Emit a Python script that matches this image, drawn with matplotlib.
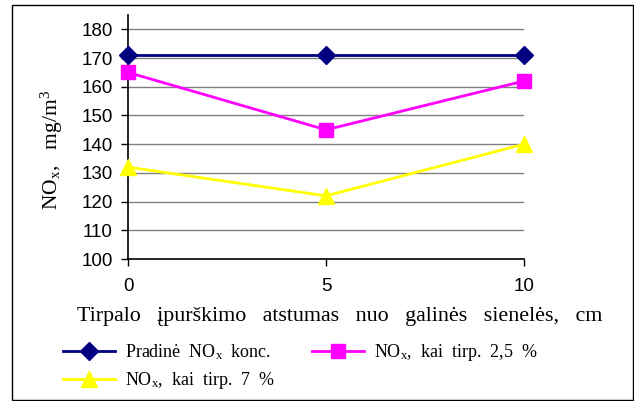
import matplotlib
matplotlib.use("Agg")
import matplotlib.pyplot as plt
from matplotlib.patches import Rectangle

# data
distances = [0, 5, 10]
pradine = [171, 171, 171]
tirp_25 = [165, 145, 162]
tirp_7 = [132, 122, 140]
y_ticks = [100, 110, 120, 130, 140, 150, 160, 170, 180]

plt.rcParams['mathtext.default'] = 'regular'

fig = plt.figure(figsize=(6.34, 4.01), dpi=100)
ax = fig.add_axes([128 / 634, 142 / 401, 396 / 634, 244 / 401])

# outer border
fig.patches.append(Rectangle((12 / 634, 1 / 401), 621 / 634, 395 / 401,
                             transform=fig.transFigure, fill=False,
                             edgecolor='black', linewidth=1.0))

for y in y_ticks[1:]:
    ax.axhline(y, color='#808080', linewidth=1.0, zorder=1)

l1, = ax.plot(distances, pradine, color='#000080', linewidth=2, marker='D',
              markersize=9, label='Pradinė  NO$_x$  konc.', zorder=3, clip_on=False)
l2, = ax.plot(distances, tirp_25, color='#FF00FF', linewidth=2, marker='s',
              markersize=10, label='NO$_x$,  kai  tirp.  2,5  %', zorder=3, clip_on=False)
l3, = ax.plot(distances, tirp_7, color='#FFFF00', linewidth=2, marker='^',
              markersize=12, label='NO$_x$,  kai  tirp.  7  %', zorder=3, clip_on=False)

ax.set_xlim(0, 10)
ax.set_ylim(100, 185)
ax.set_xticks(distances)
ax.set_yticks(y_ticks)
ax.tick_params(axis='both', labelsize=13.5, direction='out', length=5, width=1)
ax.tick_params(axis='x', pad=9)
ax.tick_params(axis='y', pad=6)
for lbl in ax.get_xticklabels() + ax.get_yticklabels():
    lbl.set_fontfamily('Liberation Sans')

ax.spines['top'].set_visible(False)
ax.spines['right'].set_visible(False)
ax.spines['left'].set_linewidth(1.2)
ax.spines['bottom'].set_linewidth(1.2)

ax.set_xlabel('Tirpalo   įpurškimo   atstumas   nuo   galinės   sienelės,   cm',
              fontfamily='Liberation Serif', fontsize=15.8)
ax.xaxis.set_label_coords(0.535, -0.195)
ax.set_ylabel('NO$_x$,   mg/m$^3$', fontfamily='Liberation Serif', fontsize=15.5)
ax.yaxis.set_label_coords(-0.16, 0.447)

fig.legend(handles=[l1, l3, l2], ncol=2, frameon=False,
           prop={'family': 'Liberation Serif', 'size': 13},
           loc='upper left', bbox_to_anchor=(63 / 634, 1 - 342 / 401),
           borderpad=0, borderaxespad=0,
           handlelength=2.9, columnspacing=2.0, handletextpad=0.55,
           labelspacing=0.45)

fig.savefig('out.png', dpi=100)
